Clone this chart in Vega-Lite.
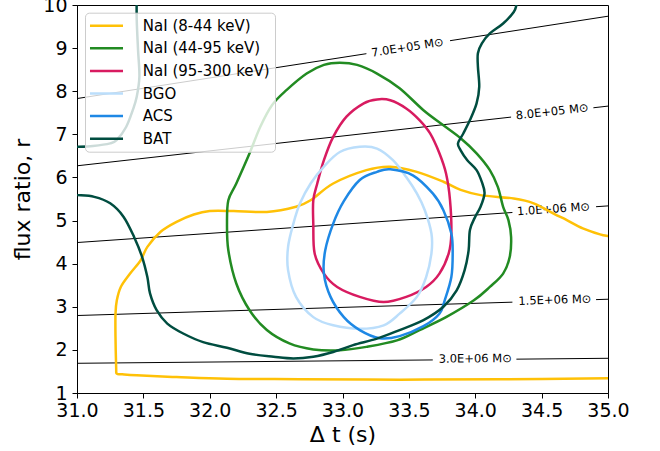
{
  "$schema": "https://vega.github.io/schema/vega-lite/v6.json",
  "width": 531,
  "height": 388,
  "autosize": {"type": "none"},
  "padding": {"left": 77, "top": 5, "right": 52, "bottom": 58},
  "background": "white",
  "config": {
    "font": "DejaVu Sans",
    "view": {"stroke": "black", "strokeWidth": 1},
    "axis": {"grid": false, "domainColor": "black", "tickColor": "black", "labelColor": "black", "titleColor": "black", "labelFont": "DejaVu Sans", "titleFont": "DejaVu Sans", "titleFontWeight": "normal", "labelFontSize": 19, "titleFontSize": 22, "tickSize": 5, "domainWidth": 1, "tickWidth": 1, "labelFlush": false, "labelOverlap": false, "labelBound": false}
  },
  "datasets": {
    "curves": [
      {"series": "NaI (8-44 keV)", "part": "a", "i": 0, "x": 35.05, "y": 4.62},
      {"series": "NaI (8-44 keV)", "part": "a", "i": 1, "x": 35.00, "y": 4.64},
      {"series": "NaI (8-44 keV)", "part": "a", "i": 2, "x": 34.94, "y": 4.68},
      {"series": "NaI (8-44 keV)", "part": "a", "i": 3, "x": 34.81, "y": 4.82},
      {"series": "NaI (8-44 keV)", "part": "a", "i": 4, "x": 34.69, "y": 5.01},
      {"series": "NaI (8-44 keV)", "part": "a", "i": 5, "x": 34.59, "y": 5.16},
      {"series": "NaI (8-44 keV)", "part": "a", "i": 6, "x": 34.44, "y": 5.40},
      {"series": "NaI (8-44 keV)", "part": "a", "i": 7, "x": 34.29, "y": 5.51},
      {"series": "NaI (8-44 keV)", "part": "a", "i": 8, "x": 34.04, "y": 5.59},
      {"series": "NaI (8-44 keV)", "part": "a", "i": 9, "x": 33.89, "y": 5.71},
      {"series": "NaI (8-44 keV)", "part": "a", "i": 10, "x": 33.76, "y": 5.90},
      {"series": "NaI (8-44 keV)", "part": "a", "i": 11, "x": 33.56, "y": 6.13},
      {"series": "NaI (8-44 keV)", "part": "a", "i": 12, "x": 33.36, "y": 6.25},
      {"series": "NaI (8-44 keV)", "part": "a", "i": 13, "x": 33.18, "y": 6.17},
      {"series": "NaI (8-44 keV)", "part": "a", "i": 14, "x": 32.93, "y": 5.86},
      {"series": "NaI (8-44 keV)", "part": "a", "i": 15, "x": 32.76, "y": 5.47},
      {"series": "NaI (8-44 keV)", "part": "a", "i": 16, "x": 32.65, "y": 5.32},
      {"series": "NaI (8-44 keV)", "part": "a", "i": 17, "x": 32.43, "y": 5.20},
      {"series": "NaI (8-44 keV)", "part": "a", "i": 18, "x": 32.18, "y": 5.22},
      {"series": "NaI (8-44 keV)", "part": "a", "i": 19, "x": 32.00, "y": 5.22},
      {"series": "NaI (8-44 keV)", "part": "a", "i": 20, "x": 31.88, "y": 5.14},
      {"series": "NaI (8-44 keV)", "part": "a", "i": 21, "x": 31.75, "y": 4.97},
      {"series": "NaI (8-44 keV)", "part": "a", "i": 22, "x": 31.63, "y": 4.74},
      {"series": "NaI (8-44 keV)", "part": "a", "i": 23, "x": 31.53, "y": 4.39},
      {"series": "NaI (8-44 keV)", "part": "a", "i": 24, "x": 31.48, "y": 4.08},
      {"series": "NaI (8-44 keV)", "part": "a", "i": 25, "x": 31.40, "y": 3.77},
      {"series": "NaI (8-44 keV)", "part": "a", "i": 26, "x": 31.33, "y": 3.46},
      {"series": "NaI (8-44 keV)", "part": "a", "i": 27, "x": 31.30, "y": 3.15},
      {"series": "NaI (8-44 keV)", "part": "a", "i": 28, "x": 31.29, "y": 2.84},
      {"series": "NaI (8-44 keV)", "part": "a", "i": 29, "x": 31.29, "y": 2.30},
      {"series": "NaI (8-44 keV)", "part": "a", "i": 30, "x": 31.295, "y": 1.58},
      {"series": "NaI (8-44 keV)", "part": "a", "i": 31, "x": 31.30, "y": 1.45},
      {"series": "NaI (8-44 keV)", "part": "a", "i": 32, "x": 31.34, "y": 1.435},
      {"series": "NaI (8-44 keV)", "part": "a", "i": 33, "x": 31.45, "y": 1.41},
      {"series": "NaI (8-44 keV)", "part": "a", "i": 34, "x": 31.75, "y": 1.37},
      {"series": "NaI (8-44 keV)", "part": "a", "i": 35, "x": 32.13, "y": 1.33},
      {"series": "NaI (8-44 keV)", "part": "a", "i": 36, "x": 32.68, "y": 1.32},
      {"series": "NaI (8-44 keV)", "part": "a", "i": 37, "x": 33.43, "y": 1.31},
      {"series": "NaI (8-44 keV)", "part": "a", "i": 38, "x": 34.19, "y": 1.32},
      {"series": "NaI (8-44 keV)", "part": "a", "i": 39, "x": 35.00, "y": 1.34},
      {"series": "NaI (8-44 keV)", "part": "a", "i": 40, "x": 35.05, "y": 1.34},

      {"series": "NaI (44-95 keV)", "part": "a", "i": 1, "x": 32.98, "y": 8.66},
      {"series": "NaI (44-95 keV)", "part": "a", "i": 2, "x": 33.11, "y": 8.61},
      {"series": "NaI (44-95 keV)", "part": "a", "i": 3, "x": 33.26, "y": 8.41},
      {"series": "NaI (44-95 keV)", "part": "a", "i": 4, "x": 33.43, "y": 8.07},
      {"series": "NaI (44-95 keV)", "part": "a", "i": 5, "x": 33.61, "y": 7.56},
      {"series": "NaI (44-95 keV)", "part": "a", "i": 6, "x": 33.76, "y": 7.21},
      {"series": "NaI (44-95 keV)", "part": "a", "i": 7, "x": 33.89, "y": 6.91},
      {"series": "NaI (44-95 keV)", "part": "a", "i": 8, "x": 34.01, "y": 6.56},
      {"series": "NaI (44-95 keV)", "part": "a", "i": 9, "x": 34.11, "y": 6.17},
      {"series": "NaI (44-95 keV)", "part": "a", "i": 10, "x": 34.17, "y": 5.78},
      {"series": "NaI (44-95 keV)", "part": "a", "i": 11, "x": 34.21, "y": 5.32},
      {"series": "NaI (44-95 keV)", "part": "a", "i": 12, "x": 34.25, "y": 5.01},
      {"series": "NaI (44-95 keV)", "part": "a", "i": 13, "x": 34.27, "y": 4.62},
      {"series": "NaI (44-95 keV)", "part": "a", "i": 14, "x": 34.26, "y": 4.16},
      {"series": "NaI (44-95 keV)", "part": "a", "i": 15, "x": 34.21, "y": 3.77},
      {"series": "NaI (44-95 keV)", "part": "a", "i": 16, "x": 34.11, "y": 3.46},
      {"series": "NaI (44-95 keV)", "part": "a", "i": 17, "x": 33.99, "y": 3.15},
      {"series": "NaI (44-95 keV)", "part": "a", "i": 18, "x": 33.78, "y": 2.76},
      {"series": "NaI (44-95 keV)", "part": "a", "i": 19, "x": 33.58, "y": 2.46},
      {"series": "NaI (44-95 keV)", "part": "a", "i": 20, "x": 33.41, "y": 2.22},
      {"series": "NaI (44-95 keV)", "part": "a", "i": 21, "x": 33.18, "y": 2.07},
      {"series": "NaI (44-95 keV)", "part": "a", "i": 22, "x": 32.98, "y": 1.99},
      {"series": "NaI (44-95 keV)", "part": "a", "i": 23, "x": 32.78, "y": 2.01},
      {"series": "NaI (44-95 keV)", "part": "a", "i": 24, "x": 32.60, "y": 2.15},
      {"series": "NaI (44-95 keV)", "part": "a", "i": 25, "x": 32.43, "y": 2.46},
      {"series": "NaI (44-95 keV)", "part": "a", "i": 26, "x": 32.30, "y": 2.92},
      {"series": "NaI (44-95 keV)", "part": "a", "i": 27, "x": 32.20, "y": 3.54},
      {"series": "NaI (44-95 keV)", "part": "a", "i": 28, "x": 32.14, "y": 4.31},
      {"series": "NaI (44-95 keV)", "part": "a", "i": 29, "x": 32.13, "y": 4.93},
      {"series": "NaI (44-95 keV)", "part": "a", "i": 30, "x": 32.14, "y": 5.47},
      {"series": "NaI (44-95 keV)", "part": "a", "i": 31, "x": 32.20, "y": 5.86},
      {"series": "NaI (44-95 keV)", "part": "a", "i": 32, "x": 32.30, "y": 6.56},
      {"series": "NaI (44-95 keV)", "part": "a", "i": 33, "x": 32.38, "y": 7.17},
      {"series": "NaI (44-95 keV)", "part": "a", "i": 34, "x": 32.47, "y": 7.68},
      {"series": "NaI (44-95 keV)", "part": "a", "i": 35, "x": 32.58, "y": 8.03},
      {"series": "NaI (44-95 keV)", "part": "a", "i": 36, "x": 32.73, "y": 8.41},
      {"series": "NaI (44-95 keV)", "part": "a", "i": 37, "x": 32.86, "y": 8.61},

      {"series": "NaI (95-300 keV)", "part": "a", "i": 1, "x": 33.26, "y": 7.81},
      {"series": "NaI (95-300 keV)", "part": "a", "i": 2, "x": 33.36, "y": 7.79},
      {"series": "NaI (95-300 keV)", "part": "a", "i": 3, "x": 33.48, "y": 7.60},
      {"series": "NaI (95-300 keV)", "part": "a", "i": 4, "x": 33.58, "y": 7.33},
      {"series": "NaI (95-300 keV)", "part": "a", "i": 5, "x": 33.66, "y": 7.02},
      {"series": "NaI (95-300 keV)", "part": "a", "i": 6, "x": 33.73, "y": 6.56},
      {"series": "NaI (95-300 keV)", "part": "a", "i": 7, "x": 33.78, "y": 6.09},
      {"series": "NaI (95-300 keV)", "part": "a", "i": 8, "x": 33.81, "y": 5.47},
      {"series": "NaI (95-300 keV)", "part": "a", "i": 9, "x": 33.82, "y": 4.70},
      {"series": "NaI (95-300 keV)", "part": "a", "i": 10, "x": 33.80, "y": 4.24},
      {"series": "NaI (95-300 keV)", "part": "a", "i": 11, "x": 33.73, "y": 3.77},
      {"series": "NaI (95-300 keV)", "part": "a", "i": 12, "x": 33.63, "y": 3.46},
      {"series": "NaI (95-300 keV)", "part": "a", "i": 13, "x": 33.48, "y": 3.23},
      {"series": "NaI (95-300 keV)", "part": "a", "i": 14, "x": 33.31, "y": 3.11},
      {"series": "NaI (95-300 keV)", "part": "a", "i": 15, "x": 33.13, "y": 3.23},
      {"series": "NaI (95-300 keV)", "part": "a", "i": 16, "x": 32.96, "y": 3.46},
      {"series": "NaI (95-300 keV)", "part": "a", "i": 17, "x": 32.86, "y": 3.77},
      {"series": "NaI (95-300 keV)", "part": "a", "i": 18, "x": 32.79, "y": 4.24},
      {"series": "NaI (95-300 keV)", "part": "a", "i": 19, "x": 32.78, "y": 4.93},
      {"series": "NaI (95-300 keV)", "part": "a", "i": 20, "x": 32.78, "y": 5.47},
      {"series": "NaI (95-300 keV)", "part": "a", "i": 21, "x": 32.81, "y": 5.86},
      {"series": "NaI (95-300 keV)", "part": "a", "i": 22, "x": 32.86, "y": 6.40},
      {"series": "NaI (95-300 keV)", "part": "a", "i": 23, "x": 32.93, "y": 6.94},
      {"series": "NaI (95-300 keV)", "part": "a", "i": 24, "x": 33.03, "y": 7.41},
      {"series": "NaI (95-300 keV)", "part": "a", "i": 25, "x": 33.16, "y": 7.72},

      {"series": "BGO", "part": "a", "i": 1, "x": 33.13, "y": 6.71},
      {"series": "BGO", "part": "a", "i": 2, "x": 33.26, "y": 6.67},
      {"series": "BGO", "part": "a", "i": 3, "x": 33.38, "y": 6.40},
      {"series": "BGO", "part": "a", "i": 4, "x": 33.48, "y": 6.01},
      {"series": "BGO", "part": "a", "i": 5, "x": 33.56, "y": 5.63},
      {"series": "BGO", "part": "a", "i": 6, "x": 33.62, "y": 5.24},
      {"series": "BGO", "part": "a", "i": 7, "x": 33.67, "y": 4.70},
      {"series": "BGO", "part": "a", "i": 8, "x": 33.67, "y": 4.24},
      {"series": "BGO", "part": "a", "i": 9, "x": 33.63, "y": 3.69},
      {"series": "BGO", "part": "a", "i": 10, "x": 33.56, "y": 3.23},
      {"series": "BGO", "part": "a", "i": 11, "x": 33.43, "y": 2.84},
      {"series": "BGO", "part": "a", "i": 12, "x": 33.31, "y": 2.57},
      {"series": "BGO", "part": "a", "i": 13, "x": 33.13, "y": 2.49},
      {"series": "BGO", "part": "a", "i": 14, "x": 32.93, "y": 2.57},
      {"series": "BGO", "part": "a", "i": 15, "x": 32.78, "y": 2.76},
      {"series": "BGO", "part": "a", "i": 16, "x": 32.65, "y": 3.23},
      {"series": "BGO", "part": "a", "i": 17, "x": 32.59, "y": 3.85},
      {"series": "BGO", "part": "a", "i": 18, "x": 32.59, "y": 4.39},
      {"series": "BGO", "part": "a", "i": 19, "x": 32.63, "y": 4.93},
      {"series": "BGO", "part": "a", "i": 20, "x": 32.68, "y": 5.40},
      {"series": "BGO", "part": "a", "i": 21, "x": 32.76, "y": 5.86},
      {"series": "BGO", "part": "a", "i": 22, "x": 32.86, "y": 6.25},
      {"series": "BGO", "part": "a", "i": 23, "x": 32.98, "y": 6.59},

      {"series": "ACS", "part": "a", "i": 1, "x": 33.36, "y": 6.19},
      {"series": "ACS", "part": "a", "i": 2, "x": 33.53, "y": 6.05},
      {"series": "ACS", "part": "a", "i": 3, "x": 33.68, "y": 5.63},
      {"series": "ACS", "part": "a", "i": 4, "x": 33.76, "y": 5.24},
      {"series": "ACS", "part": "a", "i": 5, "x": 33.82, "y": 4.70},
      {"series": "ACS", "part": "a", "i": 6, "x": 33.83, "y": 4.24},
      {"series": "ACS", "part": "a", "i": 7, "x": 33.82, "y": 3.69},
      {"series": "ACS", "part": "a", "i": 8, "x": 33.77, "y": 3.15},
      {"series": "ACS", "part": "a", "i": 9, "x": 33.73, "y": 2.84},
      {"series": "ACS", "part": "a", "i": 10, "x": 33.61, "y": 2.55},
      {"series": "ACS", "part": "a", "i": 11, "x": 33.43, "y": 2.32},
      {"series": "ACS", "part": "a", "i": 12, "x": 33.28, "y": 2.27},
      {"series": "ACS", "part": "a", "i": 13, "x": 33.13, "y": 2.46},
      {"series": "ACS", "part": "a", "i": 14, "x": 33.01, "y": 2.76},
      {"series": "ACS", "part": "a", "i": 15, "x": 32.91, "y": 3.23},
      {"series": "ACS", "part": "a", "i": 16, "x": 32.86, "y": 3.77},
      {"series": "ACS", "part": "a", "i": 17, "x": 32.87, "y": 4.31},
      {"series": "ACS", "part": "a", "i": 18, "x": 32.93, "y": 4.93},
      {"series": "ACS", "part": "a", "i": 19, "x": 33.01, "y": 5.45},
      {"series": "ACS", "part": "a", "i": 20, "x": 33.13, "y": 5.94},
      {"series": "ACS", "part": "a", "i": 21, "x": 33.26, "y": 6.13},

      {"series": "BAT", "part": "a", "i": 0, "x": 30.95, "y": 5.60},
      {"series": "BAT", "part": "a", "i": 1, "x": 31.00, "y": 5.59},
      {"series": "BAT", "part": "a", "i": 2, "x": 31.13, "y": 5.55},
      {"series": "BAT", "part": "a", "i": 3, "x": 31.25, "y": 5.40},
      {"series": "BAT", "part": "a", "i": 4, "x": 31.35, "y": 5.09},
      {"series": "BAT", "part": "a", "i": 5, "x": 31.43, "y": 4.62},
      {"series": "BAT", "part": "a", "i": 6, "x": 31.49, "y": 4.16},
      {"series": "BAT", "part": "a", "i": 7, "x": 31.53, "y": 3.69},
      {"series": "BAT", "part": "a", "i": 8, "x": 31.55, "y": 3.31},
      {"series": "BAT", "part": "a", "i": 9, "x": 31.60, "y": 2.92},
      {"series": "BAT", "part": "a", "i": 10, "x": 31.68, "y": 2.61},
      {"series": "BAT", "part": "a", "i": 11, "x": 31.80, "y": 2.38},
      {"series": "BAT", "part": "a", "i": 12, "x": 31.95, "y": 2.18},
      {"series": "BAT", "part": "a", "i": 13, "x": 32.13, "y": 2.05},
      {"series": "BAT", "part": "a", "i": 14, "x": 32.30, "y": 1.91},
      {"series": "BAT", "part": "a", "i": 15, "x": 32.48, "y": 1.84},
      {"series": "BAT", "part": "a", "i": 16, "x": 32.63, "y": 1.80},
      {"series": "BAT", "part": "a", "i": 17, "x": 32.78, "y": 1.84},
      {"series": "BAT", "part": "a", "i": 18, "x": 32.93, "y": 1.95},
      {"series": "BAT", "part": "a", "i": 19, "x": 33.08, "y": 2.11},
      {"series": "BAT", "part": "a", "i": 20, "x": 33.26, "y": 2.26},
      {"series": "BAT", "part": "a", "i": 21, "x": 33.43, "y": 2.46},
      {"series": "BAT", "part": "a", "i": 22, "x": 33.61, "y": 2.69},
      {"series": "BAT", "part": "a", "i": 23, "x": 33.76, "y": 3.00},
      {"series": "BAT", "part": "a", "i": 24, "x": 33.86, "y": 3.38},
      {"series": "BAT", "part": "a", "i": 25, "x": 33.92, "y": 3.85},
      {"series": "BAT", "part": "a", "i": 26, "x": 33.95, "y": 4.31},
      {"series": "BAT", "part": "a", "i": 27, "x": 33.96, "y": 4.78},
      {"series": "BAT", "part": "a", "i": 28, "x": 34.00, "y": 5.09},
      {"series": "BAT", "part": "a", "i": 29, "x": 34.04, "y": 5.32},
      {"series": "BAT", "part": "a", "i": 30, "x": 34.07, "y": 5.63},
      {"series": "BAT", "part": "a", "i": 31, "x": 34.05, "y": 5.89},
      {"series": "BAT", "part": "a", "i": 32, "x": 34.01, "y": 6.17},
      {"series": "BAT", "part": "a", "i": 33, "x": 33.94, "y": 6.40},
      {"series": "BAT", "part": "a", "i": 34, "x": 33.89, "y": 6.63},
      {"series": "BAT", "part": "a", "i": 35, "x": 33.87, "y": 6.79},
      {"series": "BAT", "part": "a", "i": 36, "x": 33.91, "y": 7.02},
      {"series": "BAT", "part": "a", "i": 37, "x": 33.96, "y": 7.33},
      {"series": "BAT", "part": "a", "i": 38, "x": 34.01, "y": 7.72},
      {"series": "BAT", "part": "a", "i": 39, "x": 34.03, "y": 8.10},
      {"series": "BAT", "part": "a", "i": 40, "x": 34.02, "y": 8.57},
      {"series": "BAT", "part": "a", "i": 41, "x": 34.02, "y": 8.88},
      {"series": "BAT", "part": "a", "i": 42, "x": 34.05, "y": 9.11},
      {"series": "BAT", "part": "a", "i": 43, "x": 34.11, "y": 9.34},
      {"series": "BAT", "part": "a", "i": 44, "x": 34.21, "y": 9.57},
      {"series": "BAT", "part": "a", "i": 45, "x": 34.29, "y": 9.84},
      {"series": "BAT", "part": "a", "i": 46, "x": 34.31, "y": 10.0},
      {"series": "BAT", "part": "a", "i": 47, "x": 34.32, "y": 10.15},

      {"series": "BAT", "part": "b", "i": 0, "x": 30.95, "y": 6.71},
      {"series": "BAT", "part": "b", "i": 1, "x": 31.00, "y": 6.71},
      {"series": "BAT", "part": "b", "i": 2, "x": 31.12, "y": 6.73},
      {"series": "BAT", "part": "b", "i": 3, "x": 31.25, "y": 6.79},
      {"series": "BAT", "part": "b", "i": 4, "x": 31.30, "y": 6.87},
      {"series": "BAT", "part": "b", "i": 5, "x": 31.37, "y": 7.17},
      {"series": "BAT", "part": "b", "i": 6, "x": 31.42, "y": 7.56},
      {"series": "BAT", "part": "b", "i": 7, "x": 31.45, "y": 7.87},
      {"series": "BAT", "part": "b", "i": 8, "x": 31.47, "y": 8.34},
      {"series": "BAT", "part": "b", "i": 9, "x": 31.46, "y": 8.95},
      {"series": "BAT", "part": "b", "i": 10, "x": 31.45, "y": 9.65},
      {"series": "BAT", "part": "b", "i": 11, "x": 31.45, "y": 10.15}
    ],
    "mass": [
      {"seg": "m7a", "i": 1, "x": 31.0, "y": 7.83},
      {"seg": "m7a", "i": 2, "x": 33.18, "y": 8.871},
      {"seg": "m7b", "i": 1, "x": 33.81, "y": 9.172},
      {"seg": "m7b", "i": 2, "x": 35.0, "y": 9.74},
      {"seg": "m8a", "i": 1, "x": 31.0, "y": 6.27},
      {"seg": "m8a", "i": 2, "x": 34.27, "y": 7.40},
      {"seg": "m8b", "i": 1, "x": 34.89, "y": 7.616},
      {"seg": "m8b", "i": 2, "x": 35.0, "y": 7.655},
      {"seg": "m10a", "i": 1, "x": 31.0, "y": 4.49},
      {"seg": "m10a", "i": 2, "x": 34.28, "y": 5.187},
      {"seg": "m10b", "i": 1, "x": 34.91, "y": 5.321},
      {"seg": "m10b", "i": 2, "x": 35.0, "y": 5.34},
      {"seg": "m15a", "i": 1, "x": 31.0, "y": 2.797},
      {"seg": "m15a", "i": 2, "x": 34.28, "y": 3.107},
      {"seg": "m15b", "i": 1, "x": 34.91, "y": 3.166},
      {"seg": "m15b", "i": 2, "x": 35.0, "y": 3.175},
      {"seg": "m30a", "i": 1, "x": 31.0, "y": 1.689},
      {"seg": "m30a", "i": 2, "x": 33.68, "y": 1.767},
      {"seg": "m30b", "i": 1, "x": 34.31, "y": 1.785},
      {"seg": "m30b", "i": 2, "x": 35.0, "y": 1.805}
    ],
    "labels": [
      {"key": "m7", "label": "7.0E+05 M⊙", "x": 33.49, "y": 9.00},
      {"key": "m8", "label": "8.0E+05 M⊙", "x": 34.58, "y": 7.51},
      {"key": "m10", "label": "1.0E+06 M⊙", "x": 34.59, "y": 5.25},
      {"key": "m15", "label": "1.5E+06 M⊙", "x": 34.60, "y": 3.14},
      {"key": "m30", "label": "3.0E+06 M⊙", "x": 34.00, "y": 1.78}
    ]
  },
  "encoding": {
    "x": {"field": "x", "type": "quantitative", "scale": {"domain": [31, 35], "nice": false, "zero": false},
      "axis": {"title": "Δ t (s)", "values": [31, 31.5, 32, 32.5, 33, 33.5, 34, 34.5, 35], "format": ".1f", "labelPadding": 3.5, "titlePadding": 4}},
    "y": {"field": "y", "type": "quantitative", "scale": {"domain": [1, 10], "nice": false, "zero": false},
      "axis": {"title": "flux ratio, r", "values": [1, 2, 3, 4, 5, 6, 7, 8, 9, 10], "labelPadding": 5, "titlePadding": 8}}
  },
  "layer": [
    {
      "data": {"name": "mass"},
      "mark": {"type": "line", "color": "black", "strokeWidth": 1, "clip": true},
      "encoding": {"detail": {"field": "seg"}, "order": {"field": "i", "type": "quantitative"}}
    },
    {
      "data": {"name": "labels"},
      "transform": [{"filter": "datum.key == 'm7'"}],
      "mark": {"type": "text", "angle": 351.2, "fontSize": 11.5, "font": "DejaVu Sans", "color": "black", "align": "center", "baseline": "middle"},
      "encoding": {"text": {"field": "label"}}
    },
    {
      "data": {"name": "labels"},
      "transform": [{"filter": "datum.key == 'm8'"}],
      "mark": {"type": "text", "angle": 353.6, "fontSize": 11.5, "font": "DejaVu Sans", "color": "black", "align": "center", "baseline": "middle"},
      "encoding": {"text": {"field": "label"}}
    },
    {
      "data": {"name": "labels"},
      "transform": [{"filter": "datum.key == 'm10'"}],
      "mark": {"type": "text", "angle": 356.1, "fontSize": 11.5, "font": "DejaVu Sans", "color": "black", "align": "center", "baseline": "middle"},
      "encoding": {"text": {"field": "label"}}
    },
    {
      "data": {"name": "labels"},
      "transform": [{"filter": "datum.key == 'm15'"}],
      "mark": {"type": "text", "angle": 358.2, "fontSize": 11.5, "font": "DejaVu Sans", "color": "black", "align": "center", "baseline": "middle"},
      "encoding": {"text": {"field": "label"}}
    },
    {
      "data": {"name": "labels"},
      "transform": [{"filter": "datum.key == 'm30'"}],
      "mark": {"type": "text", "angle": 359.5, "fontSize": 11.5, "font": "DejaVu Sans", "color": "black", "align": "center", "baseline": "middle"},
      "encoding": {"text": {"field": "label"}}
    },
    {
      "data": {"name": "curves"},
      "transform": [{"filter": "datum.series == 'NaI (8-44 keV)'"}],
      "mark": {"type": "line", "interpolate": "cardinal", "strokeWidth": 2.5, "clip": true},
      "encoding": {
        "color": {"field": "series", "type": "nominal",
          "scale": {"domain": ["NaI (8-44 keV)", "NaI (44-95 keV)", "NaI (95-300 keV)", "BGO", "ACS", "BAT"], "range": ["#FFC107", "#228B22", "#D81B60", "#BBDEFB", "#1E88E5", "#004D40"]},
          "legend": {"orient": "none", "legendX": 8, "legendY": 7.7, "title": null, "symbolType": "M-2.54,0H2.54", "symbolSize": 169, "symbolStrokeWidth": 2.5, "symbolOffset": 8.5, "labelOffset": 28.3, "labelFontSize": 15, "labelFont": "DejaVu Sans", "labelColor": "black", "rowPadding": 6.6, "padding": 5, "fillColor": "rgba(255,255,255,0.8)", "strokeColor": "#cccccc", "cornerRadius": 4, "labelLimit": 300}},
        "detail": {"field": "part"},
        "order": {"field": "i", "type": "quantitative"}
      }
    },
    {
      "data": {"name": "curves"},
      "transform": [{"filter": "datum.series != 'NaI (8-44 keV)' && datum.series != 'BAT'"}],
      "mark": {"type": "line", "interpolate": "cardinal-closed", "strokeWidth": 2.5, "clip": true},
      "encoding": {
        "color": {"field": "series", "type": "nominal",
          "scale": {"domain": ["NaI (8-44 keV)", "NaI (44-95 keV)", "NaI (95-300 keV)", "BGO", "ACS", "BAT"], "range": ["#FFC107", "#228B22", "#D81B60", "#BBDEFB", "#1E88E5", "#004D40"]},
          "legend": {"orient": "none", "legendX": 8, "legendY": 7.7, "title": null, "symbolType": "M-2.54,0H2.54", "symbolSize": 169, "symbolStrokeWidth": 2.5, "symbolOffset": 8.5, "labelOffset": 28.3, "labelFontSize": 15, "labelFont": "DejaVu Sans", "labelColor": "black", "rowPadding": 6.6, "padding": 5, "fillColor": "rgba(255,255,255,0.8)", "strokeColor": "#cccccc", "cornerRadius": 4, "labelLimit": 300}},
        "detail": {"field": "part"},
        "order": {"field": "i", "type": "quantitative"}
      }
    },
    {
      "data": {"name": "curves"},
      "transform": [{"filter": "datum.series == 'BAT'"}],
      "mark": {"type": "line", "interpolate": "cardinal", "strokeWidth": 2.5, "clip": true},
      "encoding": {
        "color": {"field": "series", "type": "nominal",
          "scale": {"domain": ["NaI (8-44 keV)", "NaI (44-95 keV)", "NaI (95-300 keV)", "BGO", "ACS", "BAT"], "range": ["#FFC107", "#228B22", "#D81B60", "#BBDEFB", "#1E88E5", "#004D40"]},
          "legend": {"orient": "none", "legendX": 8, "legendY": 7.7, "title": null, "symbolType": "M-2.54,0H2.54", "symbolSize": 169, "symbolStrokeWidth": 2.5, "symbolOffset": 8.5, "labelOffset": 28.3, "labelFontSize": 15, "labelFont": "DejaVu Sans", "labelColor": "black", "rowPadding": 6.6, "padding": 5, "fillColor": "rgba(255,255,255,0.8)", "strokeColor": "#cccccc", "cornerRadius": 4, "labelLimit": 300}},
        "detail": {"field": "part"},
        "order": {"field": "i", "type": "quantitative"}
      }
    }
  ]
}
